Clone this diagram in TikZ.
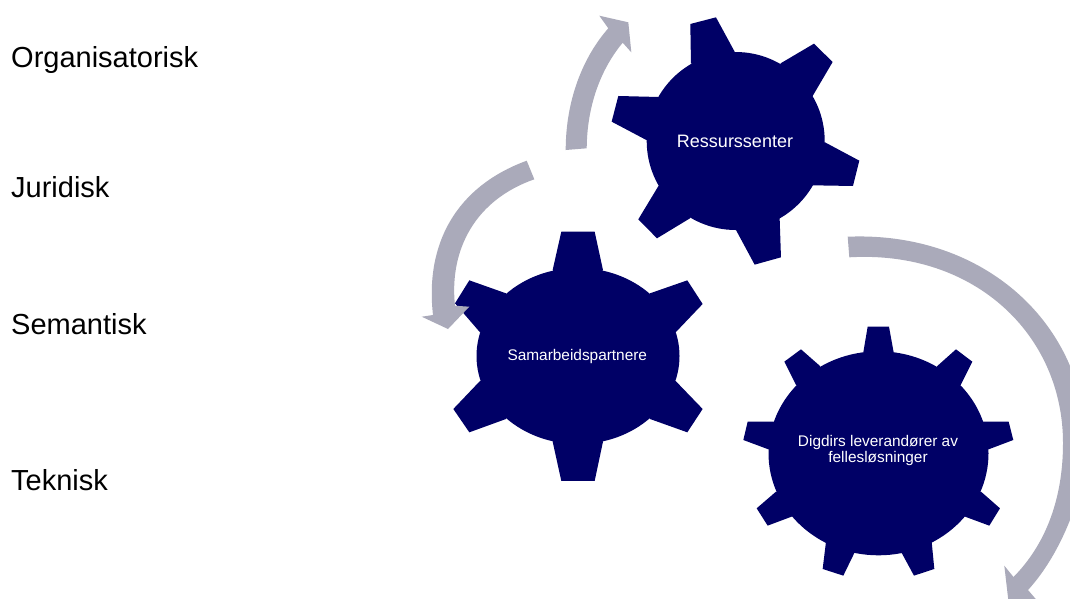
\documentclass[tikz,border=0pt]{standalone}
\usepackage{fontspec}
\setmainfont{Liberation Sans}
\usetikzlibrary{shapes.geometric}
\definecolor{navy}{RGB}{0,0,102}
\definecolor{arrowgrey}{RGB}{170,170,186}
\tikzset{
  px/.style={x=1pt,y=-1pt},
  lbl/.style={anchor=base west,inner sep=0pt,font=\fontsize{29}{33}\selectfont,text=black},
  hub/.style={ellipse,fill=navy,draw=none,inner sep=0pt,outer sep=0pt},
  hubtext/.style={inner sep=0pt,text=white,align=center},
  tooth/.style={fill=navy,draw=none},
  sweep/.style={fill=arrowgrey,draw=none},
}
\begin{document}
\begin{tikzpicture}[px]
\useasboundingbox (0,0) rectangle (1070,598);
\clip (0,0) rectangle (1070,598);
\fill[white] (0,0) rectangle (1070,598);
% labels
\node[lbl] (org) at (11,67) {Organisatorisk};
\node[lbl] (jur) at (11,197) {Juridisk};
\node[lbl] (sem) at (11,334) {Semantisk};
\node[lbl] (tek) at (11,490) {Teknisk};
% gear 1
\begin{scope}[shift={(420,0)},x=0.3333pt,y=-0.3333pt]
\fill[tooth] (811,72)--(888,52)--(944,155)--(947,250)--(813,190)--cycle;
\fill[tooth] (1082,190)--(1182,131)--(1238,186)--(1178,288)--(1050,300)--cycle;
\fill[tooth] (1215,427)--(1318,482)--(1299,558)--(1179,556)--(1100,450)--cycle;
\fill[tooth] (1079,654)--(1083,772)--(1004,794)--(948,690)--(950,600)--cycle;
\fill[tooth] (810,655)--(711,715)--(655,658)--(716,557)--(850,550)--cycle;
\fill[tooth] (679,420)--(575,365)--(595,288)--(716,291)--(800,400)--cycle;
\end{scope}
\node[hub,minimum width=178pt,minimum height=178pt] (ress) at (735.7,141) {};
\node[hubtext,font=\fontsize{18}{20}\selectfont] (resstext) at (735,141) {Ressurssenter};
% gear 2
\begin{scope}[shift={(420,220)},x=0.3333pt,y=-0.3333pt]
\fill[tooth] (398,150)--(424,35)--(524,35)--(549,150)--(474,250)--cycle;
\fill[tooth] (690,220)--(802,181)--(848,252)--(767,337)--(640,330)--cycle;
\fill[tooth] (767,483)--(848,567)--(802,637)--(690,597)--(640,480)--cycle;
\fill[tooth] (549,665)--(524,783)--(424,783)--(398,665)--(474,560)--cycle;
\fill[tooth] (258,597)--(148,637)--(100,567)--(180,483)--(300,480)--cycle;
\fill[tooth] (180,337)--(105,250)--(148,181)--(258,220)--(300,330)--cycle;
\end{scope}
\node[hub,minimum width=203pt,minimum height=176pt] (samarb) at (578,356) {};
\node[hubtext,font=\fontsize{15.4}{18}\selectfont] (samarbtext) at (577.3,356.5) {Samarbeidspartnere};
% gear 3
\begin{scope}[shift={(720,230)},x=0.3333pt,y=-0.3333pt]
\fill[tooth] (430,367)--(443,290)--(507,290)--(521,367)--(475,450)--cycle;
\fill[tooth] (652,408)--(708,358)--(757,395)--(722,465)--(620,500)--cycle;
\fill[tooth] (790,575)--(866,575)--(880,630)--(806,658)--(700,620)--cycle;
\fill[tooth] (783,785)--(840,835)--(808,887)--(735,860)--(680,780)--cycle;
\fill[tooth] (635,935)--(643,1017)--(582,1037)--(543,965)--(560,860)--cycle;
\fill[tooth] (405,965)--(370,1037)--(308,1017)--(318,935)--(390,860)--cycle;
\fill[tooth] (215,860)--(143,887)--(110,835)--(168,785)--(270,780)--cycle;
\fill[tooth] (145,658)--(70,630)--(83,575)--(160,575)--(250,620)--cycle;
\fill[tooth] (228,465)--(193,395)--(243,358)--(300,408)--(330,500)--cycle;
\end{scope}
\node[hub,minimum width=220pt,minimum height=204pt] (digdir) at (878.5,453.3) {};
\node[hubtext,font=\fontsize{15.4}{16}\selectfont] (digdirtext) at (878,450.5) {Digdirs leverandører av\\fellesløsninger};
% arrows
\fill[sweep] (565.7,150) .. controls (565.7,100) and (583,57) .. (608.3,28.3)
  -- (599.3,15.7) -- (628.3,22.3) -- (631.3,52.3) -- (622.7,42.7)
  .. controls (600,70) and (587,107) .. (586.7,148.3) -- cycle;
\fill[sweep] (526.7,160.7) .. controls (455,187) and (425,245) .. (433,315)
  -- (421.7,316.7) -- (448,329) -- (469.3,306.7) -- (455,305.7)
  .. controls (449,250) and (475,200) .. (534.3,179.3) -- cycle;
\fill[sweep] (847.7,236.7) .. controls (985,231) and (1086,325) .. (1086,446)
  .. controls (1086,490) and (1062,553) .. (1028,590)
  -- (1040,604) -- (1009,606) -- (1004.3,565.7) -- (1013.5,577)
  .. controls (1045,545) and (1063,500) .. (1063,443)
  .. controls (1063,335) and (975,250) .. (849.3,257.3) -- cycle;
\end{tikzpicture}
\end{document}
